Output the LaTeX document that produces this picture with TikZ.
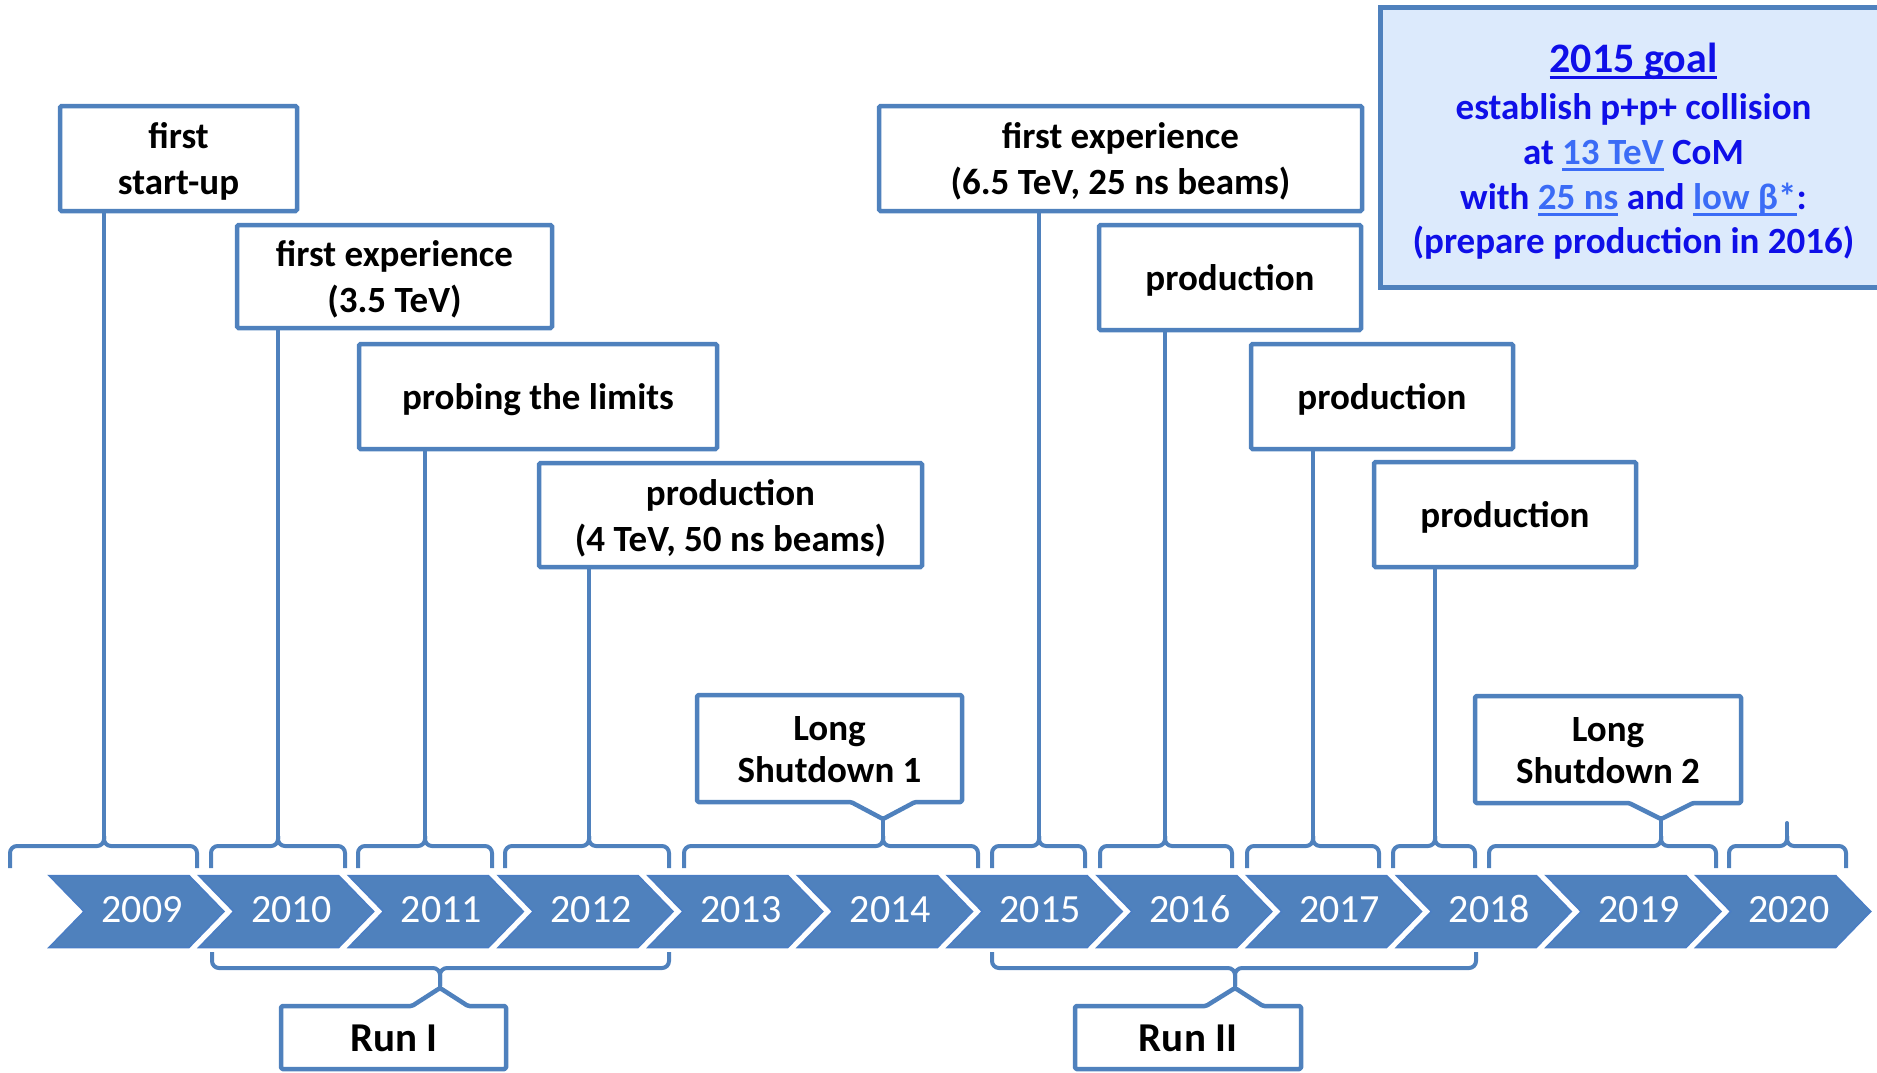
\documentclass[tikz,border=0pt]{standalone}
\usepackage{fontspec}
\setmainfont{Carlito}
\definecolor{lb}{HTML}{4F81BD}
\definecolor{chevfill}{HTML}{4F81BD}
\definecolor{chevline}{HTML}{4A7DC4}
\definecolor{gfill}{HTML}{DCEAFC}
\definecolor{gtxt}{HTML}{0F0FE8}
\definecolor{glink}{HTML}{3B6CF6}
\newsavebox\ulbox
\newcommand\myul[1]{\sbox\ulbox{#1}\rlap{\rule[-6.5pt]{\wd\ulbox}{2.6pt}}\usebox\ulbox}
\newcommand\lk[1]{\textcolor{glink}{\myul{#1}}}
\newcommand\tb[6]{%
  \node[tbox, minimum width=#4, minimum height=#5] (#1) at (#2,#3) {};
  \node[btxt] (#1t) at ([yshift=-3pt]#1.center) {#6};}
\begin{document}
\begin{tikzpicture}[x=1pt,y=-1pt,
 tbox/.style={draw=lb, line width=4.5pt, fill=white, rounded corners=1.5pt, inner sep=0pt},
 btxt/.style={inner sep=0pt, align=center, font=\bfseries\fontsize{37}{46}\selectfont},
 conn/.style={draw=lb, line width=4pt},
 br/.style={draw=lb, line width=4pt, rounded corners=7pt},
 callout/.style={draw=lb, line width=4.5pt, fill=white, rounded corners=1.5pt, line join=round},
 ctext/.style={align=center, inner sep=0pt, font=\bfseries\fontsize{37}{42}\selectfont},
 rtext/.style={inner sep=0pt, font=\bfseries\fontsize{41}{44}\selectfont},
 chev/.style={fill=chevfill, draw=chevline, line width=1.5pt},
 yr/.style={text=white, inner sep=0pt, anchor=base, font=\fontsize{40}{42}\selectfont},
 goalbox/.style={draw=lb, line width=5pt, fill=gfill, inner sep=0pt},
 gline/.style={text=gtxt, inner sep=0pt, anchor=base, font=\bfseries\fontsize{37}{44}\selectfont},
]
\useasboundingbox (0,0) rectangle (1877,1072);
\clip (0,0) rectangle (1877,1072);

% top brackets
\foreach \l/\r/\s/\n in {10/197/104/s09, 211/345/278/s10, 358/492/425/s11, 505/669/589/s12,
  684/978/883/s13, 992/1085/1039/s15, 1100/1232/1165/s16, 1247/1379/1313/s17,
  1393/1475/1435/s18, 1489/1716/1661/s19, 1729/1846/1787/s20}{
  \draw[br] (\l,868) -- (\l,846) -- (\s,846) -- (\s,836);
  \draw[br] (\r,868) -- (\r,846) -- (\s,846) -- (\s,836);
  \coordinate (\n) at (\s,836);
}
\coordinate (t20) at (1787,823);
\draw[conn, line cap=round] (s20) -- (t20);

% bottom brackets
\foreach \l/\r/\s/\n in {212/669/440/r1, 992/1476/1235/r2}{
  \draw[br] (\l,952) -- (\l,968) -- (\s,968) -- (\s,986);
  \draw[br] (\r,952) -- (\r,968) -- (\s,968) -- (\s,986);
  \coordinate (\n) at (\s,986);
}

% top boxes
\tb{b1}{178.5}{158.5}{237}{105}{first\\start-up}
\tb{b2}{394.5}{276.5}{315}{103}{first experience\\(3.5 TeV)}
\tb{b3}{538}{396.5}{358}{105}{probing the limits}
\tb{b4}{730.5}{515}{383}{104}{production\\(4 TeV, 50 ns beams)}
\tb{b6}{1120.5}{158.5}{483}{105}{first experience\\(6.5 TeV, 25 ns beams)}
\tb{b7}{1230}{277.5}{262}{105}{production}
\tb{b8}{1382}{396.5}{262}{105}{production}
\tb{b9}{1505}{514.5}{262}{105}{production}

% connectors
\draw[conn] (b1.south -| s09) -- (s09);
\draw[conn] (b2.south -| s10) -- (s10);
\draw[conn] (b3.south -| s11) -- (s11);
\draw[conn] (b4.south -| s12) -- (s12);
\draw[conn] (b6.south -| s15) -- (s15);
\draw[conn] (b7.south -| s16) -- (s16);
\draw[conn] (b8.south -| s17) -- (s17);
\draw[conn] (b9.south -| s18) -- (s18);

% callouts
\coordinate (p13) at (883,819);
\draw[callout] (697,695) -- (962,695) -- (962,802) -- (915,802) -- (p13) -- (851,802) -- (697,802) -- cycle;
\node[ctext] (ls1) at (829.5,750) {Long\\Shutdown 1};
\draw[conn] (s13) -- (p13);

\coordinate (p19) at (1661,819);
\draw[callout] (1475,696) -- (1741,696) -- (1741,803) -- (1693,803) -- (p19) -- (1629,803) -- (1475,803) -- cycle;
\node[ctext] (ls2) at (1608,751) {Long\\Shutdown 2};
\draw[conn] (s19) -- (p19);

\coordinate (q1) at (440,988);
\draw[callout] (281,1006) -- (412,1006) -- (q1) -- (468,1006) -- (506,1006) -- (506,1069) -- (281,1069) -- cycle;
\node[rtext] (run1) at (394,1038) {Run I};
\draw[conn] (r1) -- (q1);

\coordinate (q2) at (1235,988);
\draw[callout] (1075,1006) -- (1206,1006) -- (q2) -- (1263,1006) -- (1301,1006) -- (1301,1069) -- (1075,1069) -- cycle;
\node[rtext] (run2) at (1188,1038) {Run II};
\draw[conn] (r2) -- (q2);

% chevrons
\foreach \i/\yr in {0/2009,1/2010,2/2011,3/2012,4/2013,5/2014,6/2015,7/2016,8/2017,9/2018,10/2019,11/2020}{
  \pgfmathsetmacro\xa{49+149.7*\i}
  \draw[chev] (\xa,875.5) -- ++(140,0) -- ++(35,36) -- ++(-35,36) -- ++(-140,0) -- ++(35,-36) -- cycle;
  \node[yr] (y\yr) at (\xa+93,922.5) {\yr};
}

% goal box
\node[goalbox, minimum width=515, minimum height=280] (goal) at (1637.5,147) {};
\node[gline, font=\bfseries\fontsize{42}{44}\selectfont] (g1) at (1633.5,72) {\myul{2015 goal}};
\node[gline] (g2) at (1633.5,119) {establish p+p+ collision};
\node[gline] (g3) at (1633.5,164) {at \lk{13 TeV} CoM};
\node[gline] (g4) at (1633.5,209) {with \lk{25 ns} and \lk{low β*}:};
\node[gline] (g5) at (1633.5,253) {(prepare production in 2016)};
\end{tikzpicture}
\end{document}
